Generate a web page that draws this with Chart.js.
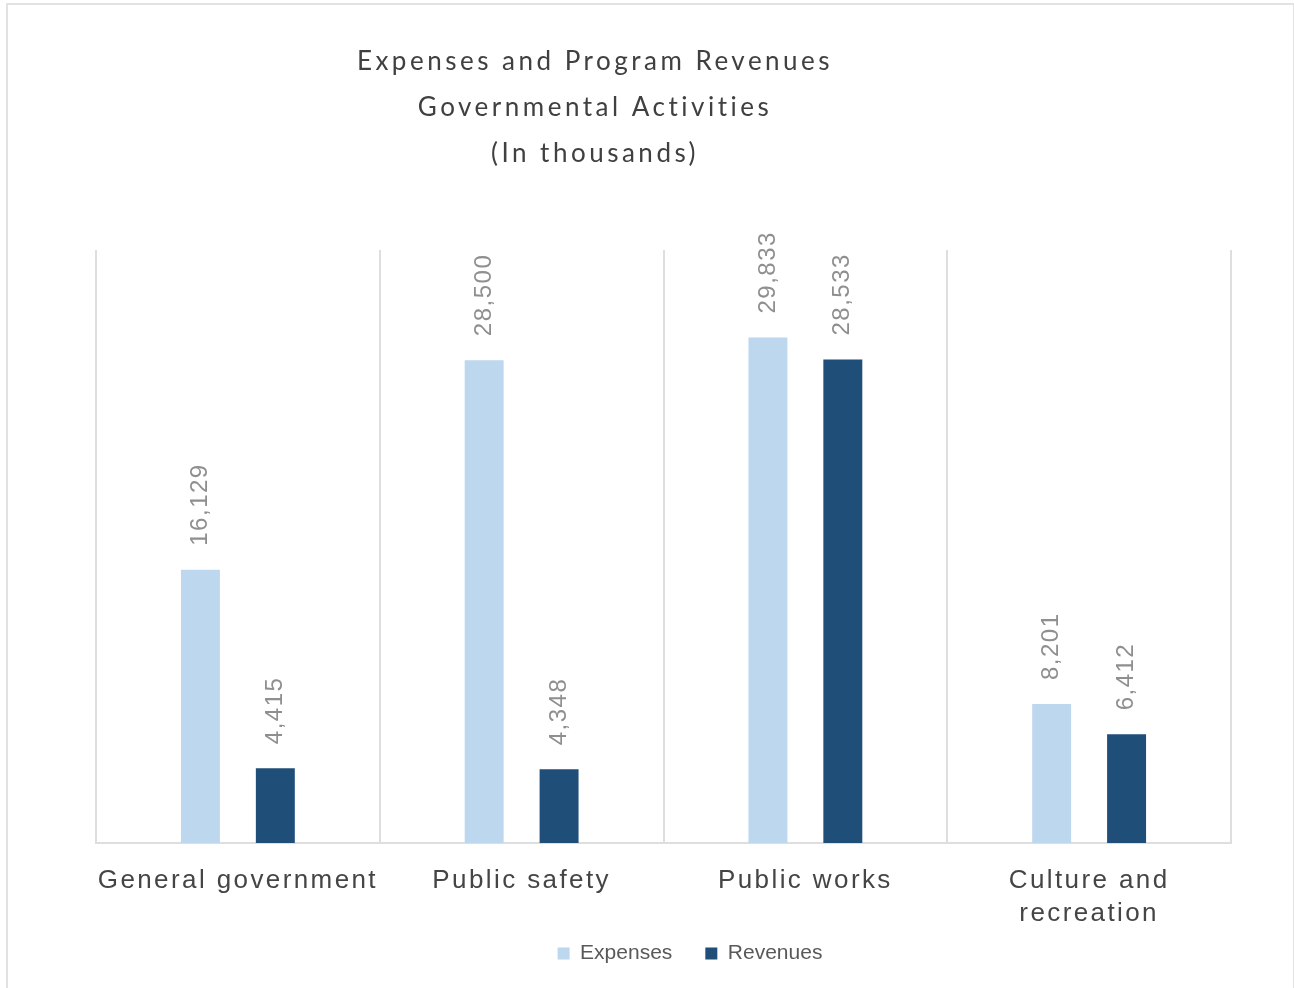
<!DOCTYPE html>
<html>
<head>
<meta charset="utf-8">
<script src="https://cdn.jsdelivr.net/npm/chart.js@4"></script>
<style>
  html, body { margin: 0; padding: 0; background: #fff; }
  #frame { position: absolute; left: 6px; top: 3px; width: 1285px; height: 990px;
           border: 2px solid #e2e2e2; border-bottom: none; }
  #wrap { position: relative; width: 1294px; height: 988px; }
</style>
</head>
<body>
<div id="frame"></div>
<div id="wrap"><canvas id="myChart"></canvas></div>
<script>
// values (in thousands)
var categories = ["General government", "Public safety", "Public works", ["Culture and", "recreation"]];
var expenses = [16129, 28500, 29833, 8201];
var revenues = [4415, 4348, 28533, 6412];
var titleLines = ["Expenses and Program Revenues", "Governmental Activities", "(In thousands)"];

// letter spacing per part, canvas has no css tracking
function track(box, spacing){
  if (!box || box._tracked) return;
  var draw = box.draw;
  box.draw = function(area){
    this.ctx.save();
    this.ctx.letterSpacing = spacing;
    draw.call(this, area);
    this.ctx.restore();
  };
  box._tracked = true;
}

var tracking = {
  id: "tracking",
  afterLayout: function(chart){
    // title sits a bit left of centre, legend a bit right and higher
    var t = chart.titleBlock, l = chart.legend;
    var tw = t.right - t.left;
    t.left = 595 - tw / 2; t.right = 595 + tw / 2;
    var lw = l.right - l.left;
    l.left = 690 - lw / 2; l.right = 690 + lw / 2;
    l.top -= 14; l.bottom -= 14;
    track(t, "3.5px");
    track(l, "0px");
  },
  beforeDraw: function(chart){
    chart.ctx.letterSpacing = "2.4px";
  }
};

var barLabels = {
  id: "barLabels",
  afterDatasetsDraw: function(chart){
    var ctx = chart.ctx;
    ctx.save();
    ctx.letterSpacing = "1.5px";
    ctx.font = "24px 'Liberation Sans', Arial, sans-serif";
    ctx.fillStyle = "#8f8f8f";
    ctx.textAlign = "left";
    ctx.textBaseline = "middle";
    chart.data.datasets.forEach(function(ds, i){
      chart.getDatasetMeta(i).data.forEach(function(bar, j){
        ctx.save();
        ctx.translate(bar.x, bar.y - 24);
        ctx.rotate(-Math.PI / 2);
        ctx.fillText(ds.data[j].toLocaleString("en-US"), 0, 0);
        ctx.restore();
      });
    });
    ctx.restore();
  }
};

var ctx = document.getElementById("myChart");

new Chart(ctx, {
  type: "bar",
  data: {
    labels: categories,
    datasets: [
      {
        label: "Expenses",
        data: expenses,
        backgroundColor: "#bdd7ee",
        categoryPercentage: 0.528,
        barPercentage: 0.52
      },
      {
        label: "Revenues",
        data: revenues,
        backgroundColor: "#1f4e79",
        categoryPercentage: 0.528,
        barPercentage: 0.52
      }
    ]
  },
  options: {
    responsive: true,
    maintainAspectRatio: false,
    animation: false,
    layout: {
      padding: { top: 0, left: 96, right: 63, bottom: 0 }
    },
    plugins: {
      title: {
        display: true,
        text: titleLines,
        color: "#404040",
        font: { family: "Lato", size: 26, weight: "normal", lineHeight: 46 / 26 },
        padding: { top: 39, bottom: 73 }
      },
      legend: {
        position: "bottom",
        labels: {
          boxWidth: 12,
          boxHeight: 12,
          padding: 33,
          color: "#595959",
          font: { family: "'Liberation Sans', Arial, sans-serif", size: 21 }
        }
      },
      tooltip: { enabled: false }
    },
    scales: {
      x: {
        grid: { color: "#dedede", lineWidth: 2, drawTicks: false },
        border: { color: "#dedede", width: 2 },
        ticks: {
          color: "#454545",
          padding: 21,
          maxRotation: 0,
          autoSkip: false,
          font: { family: "'Liberation Sans', Arial, sans-serif", size: 26, lineHeight: 33 / 26 }
        },
        afterFit: function(scale){ scale.height = 81; }
      },
      y: {
        display: false,
        min: 0,
        max: 35000
      }
    }
  },
  plugins: [tracking, barLabels]
});
</script>
</body>
</html>
